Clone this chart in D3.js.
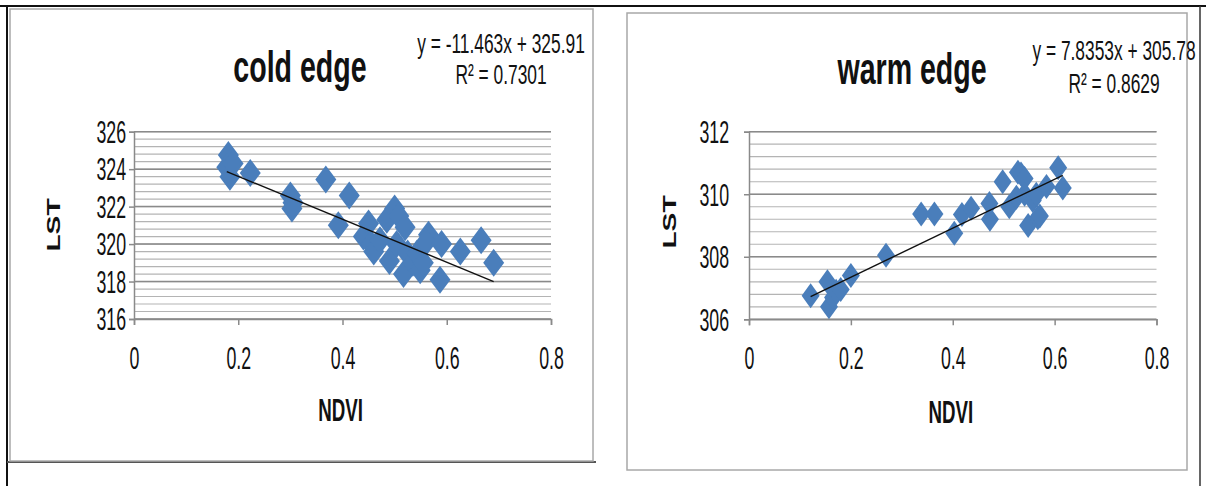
<!DOCTYPE html>
<html>
<head>
<meta charset="utf-8">
<script src="https://cdn.jsdelivr.net/npm/d3@7"></script>
<style>
body { margin: 0; background: #fff; }
text { font-family: "Liberation Sans", Arial, sans-serif; fill: #111; }
</style>
</head>
<body>
<script>
// cold edge points (NDVI, LST)
var coldNdvi = [0.181, 0.178, 0.184, 0.19, 0.223, 0.300, 0.305, 0.303, 0.368, 0.413,
                0.392, 0.44, 0.45, 0.455, 0.46, 0.472, 0.485, 0.49, 0.50, 0.504,
                0.508, 0.52, 0.517, 0.525, 0.535, 0.543, 0.549, 0.555, 0.565, 0.56,
                0.587, 0.59, 0.626, 0.666, 0.69];
var coldLst  = [324.75, 324.1, 323.6, 324.3, 323.8, 322.6, 322.2, 321.9, 323.45, 322.6,
                321.0, 320.4, 321.1, 320.0, 319.6, 320.2, 321.3, 319.1, 321.9, 320.0,
                321.5, 320.9, 318.4, 319.5, 319.0, 319.5, 318.6, 319.0, 320.5, 320.1,
                318.1, 320.0, 319.6, 320.2, 319.0];

// warm edge points
var warmNdvi = [0.121, 0.154, 0.157, 0.165, 0.171, 0.18, 0.2, 0.269, 0.338, 0.364,
                0.403, 0.418, 0.436, 0.472, 0.473, 0.498, 0.511, 0.525, 0.528, 0.534,
                0.541, 0.541, 0.548, 0.557, 0.564, 0.567, 0.571, 0.584, 0.607, 0.616];
var warmLst  = [306.75, 307.2, 306.4, 306.7, 306.9, 306.95, 307.4, 308.05, 309.37, 309.37,
                308.75, 309.35, 309.55, 309.7, 309.2, 310.4, 309.6, 309.9, 310.7, 310.65,
                310.5, 310.0, 309.0, 309.8, 310.0, 309.25, 309.3, 310.25, 310.85, 310.2];

var xTicks = [0, 0.2, 0.4, 0.6, 0.8];
var coldTicks = [316, 318, 320, 322, 324, 326];
var warmTicks = [306, 308, 310, 312];

// trendline coefficients as printed on the charts
var coldFit = [-11.463, 325.91];
var warmFit = [7.8353, 305.78];
var coldLabels = ["cold edge", "y = -11.463x + 325.91", "R\u00b2 = 0.7301"];
var warmLabels = ["warm edge", "y = 7.8353x + 305.78", "R\u00b2 = 0.8629"];

var W = 1206, H = 486;
var sy = 1.28;  // the source picture is stretched vertically

var svg = d3.select("body").append("svg")
  .attr("width", W)
  .attr("height", H);

// outer frame lines
svg.append("line").attr("x1", 0).attr("x2", W).attr("y1", 6).attr("y2", 6)
  .attr("stroke", "#111").attr("stroke-width", 2);
svg.append("line").attr("x1", 7).attr("x2", 7).attr("y1", 6).attr("y2", H)
  .attr("stroke", "#111").attr("stroke-width", 2);
svg.append("line").attr("x1", 1200).attr("x2", 1200).attr("y1", 6).attr("y2", H)
  .attr("stroke", "#333").attr("stroke-width", 1.5);
svg.append("line").attr("x1", 7).attr("x2", 596).attr("y1", 462).attr("y2", 462)
  .attr("stroke", "#555").attr("stroke-width", 2);

// chart boxes
svg.append("rect").attr("x", 10).attr("y", 9).attr("width", 583).attr("height", 452)
  .attr("fill", "none").attr("stroke", "#a8a8a8").attr("stroke-width", 1.5);
svg.append("rect").attr("x", 627).attr("y", 13).attr("width", 560).attr("height", 457)
  .attr("fill", "none").attr("stroke", "#a8a8a8").attr("stroke-width", 1.5);

// text squeezed horizontally (Calibri-like) and stretched vertically
function stretchedText(g, x, y, str, size, weight, sx) {
  return g.append("text")
    .attr("transform", "translate(" + x + "," + y + ") scale(" + sx + "," + sy + ")")
    .attr("text-anchor", "middle")
    .style("font-size", size + "px")
    .style("font-weight", weight)
    .text(str);
}

function drawChart(o) {
  var g = svg.append("g");
  var x = d3.scaleLinear().domain([0, 0.8]).range([o.x0, o.x1]);
  var y = d3.scaleLinear().domain(o.yDomain).range([o.y0, o.y1]);

  // minor gridlines every 0.4
  var minor = d3.range(o.yDomain[0], o.yDomain[1] + 0.001, 0.4);
  g.selectAll(".minor").data(minor).enter().append("line")
    .attr("x1", o.x0).attr("x2", o.x1)
    .attr("y1", function(d) { return y(d); })
    .attr("y2", function(d) { return y(d); })
    .attr("stroke", "#b4b4b4").attr("stroke-width", 1.2);
  g.selectAll(".major").data(o.yTicks).enter().append("line")
    .attr("x1", o.x0).attr("x2", o.x1)
    .attr("y1", function(d) { return y(d); })
    .attr("y2", function(d) { return y(d); })
    .attr("stroke", "#8a8a8a").attr("stroke-width", 1.5);

  // axes
  var tx = 0.74;
  var ya = g.append("g").attr("transform", "translate(" + o.x0 + ",0)")
    .call(d3.axisLeft(y).tickValues(o.yTicks).tickSize(5).tickFormat(d3.format("d")));
  var xa = g.append("g").attr("transform", "translate(0," + o.y0 + ")")
    .call(d3.axisBottom(x).tickValues(xTicks).tickSize(6).tickFormat(function(d) { return d === 0 ? "0" : d3.format(".1f")(d); }));
  [ya, xa].forEach(function(a) {
    a.select(".domain").attr("stroke", "#8a8a8a").attr("stroke-width", 1.5);
    a.selectAll(".tick line").attr("stroke", "#8a8a8a").attr("stroke-width", 1.5);
    a.selectAll("text").style("font-size", "24px").attr("fill", "#1a1a1a")
      .style("font-family", "\"Liberation Sans\", Arial, sans-serif");
  });
  ya.selectAll("text").attr("transform", "scale(" + tx + "," + sy + ")")
    .attr("x", -o.labelGap / tx).attr("dy", "0.35em");
  xa.selectAll("text").attr("transform", "scale(" + tx + "," + sy + ")")
    .attr("y", 28 / sy).attr("dy", "0.71em");

  // points as diamonds
  var pts = o.xs.map(function(v, i) { return [v, o.ys[i]]; });
  var hw = o.dw, hh = o.dh;
  g.selectAll(".pt").data(pts).enter().append("path")
    .attr("d", function(d) {
      var cx = x(d[0]), cy = y(d[1]);
      return "M" + cx + "," + (cy - hh) + "L" + (cx + hw) + "," + cy +
             "L" + cx + "," + (cy + hh) + "L" + (cx - hw) + "," + cy + "Z";
    })
    .attr("fill", "#4a7ebb");

  // linear trendline
  var xmin = d3.min(o.xs), xmax = d3.max(o.xs);
  g.append("line")
    .attr("x1", x(xmin)).attr("y1", y(o.fit[0] * xmin + o.fit[1]))
    .attr("x2", x(xmax)).attr("y2", y(o.fit[0] * xmax + o.fit[1]))
    .attr("stroke", "#111").attr("stroke-width", 1.4);

  // texts
  stretchedText(g, o.titleX, o.titleY, o.labels[0], 34, "bold", 0.84);
  stretchedText(g, o.eqX, o.eqY, o.labels[1], 22, "normal", 0.79);
  stretchedText(g, o.eqX, o.eqY + o.eqGap, o.labels[2], 22, "normal", 0.79);
  stretchedText(g, (o.x0 + o.x1) / 2 - 2, o.nY, "NDVI", 24, "bold", 0.78);
  g.append("text")
    .attr("transform", "translate(" + o.lX + "," + o.lY + ") scale(0.84," + sy + ") rotate(-90)")
    .attr("text-anchor", "middle")
    .style("font-size", "22px").style("font-weight", "bold")
    .text("LST");
}

drawChart({
  xs: coldNdvi, ys: coldLst, fit: coldFit, labels: coldLabels,
  yDomain: [316, 326], yTicks: coldTicks,
  x0: 134, x1: 551, y0: 319, y1: 131.7,
  dw: 10.5, dh: 14, labelGap: 8,
  titleX: 300, titleY: 82, eqX: 501, eqY: 53, eqGap: 31,
  nY: 421, lX: 60, lY: 225
});

drawChart({
  xs: warmNdvi, ys: warmLst, fit: warmFit, labels: warmLabels,
  yDomain: [306, 312], yTicks: warmTicks,
  x0: 749, x1: 1156.5, y0: 319.3, y1: 131.7,
  dw: 9, dh: 12.5, labelGap: 20,
  titleX: 912, titleY: 84, eqX: 1114, eqY: 60, eqGap: 33,
  nY: 423, lX: 676, lY: 222
});
</script>
</body>
</html>
